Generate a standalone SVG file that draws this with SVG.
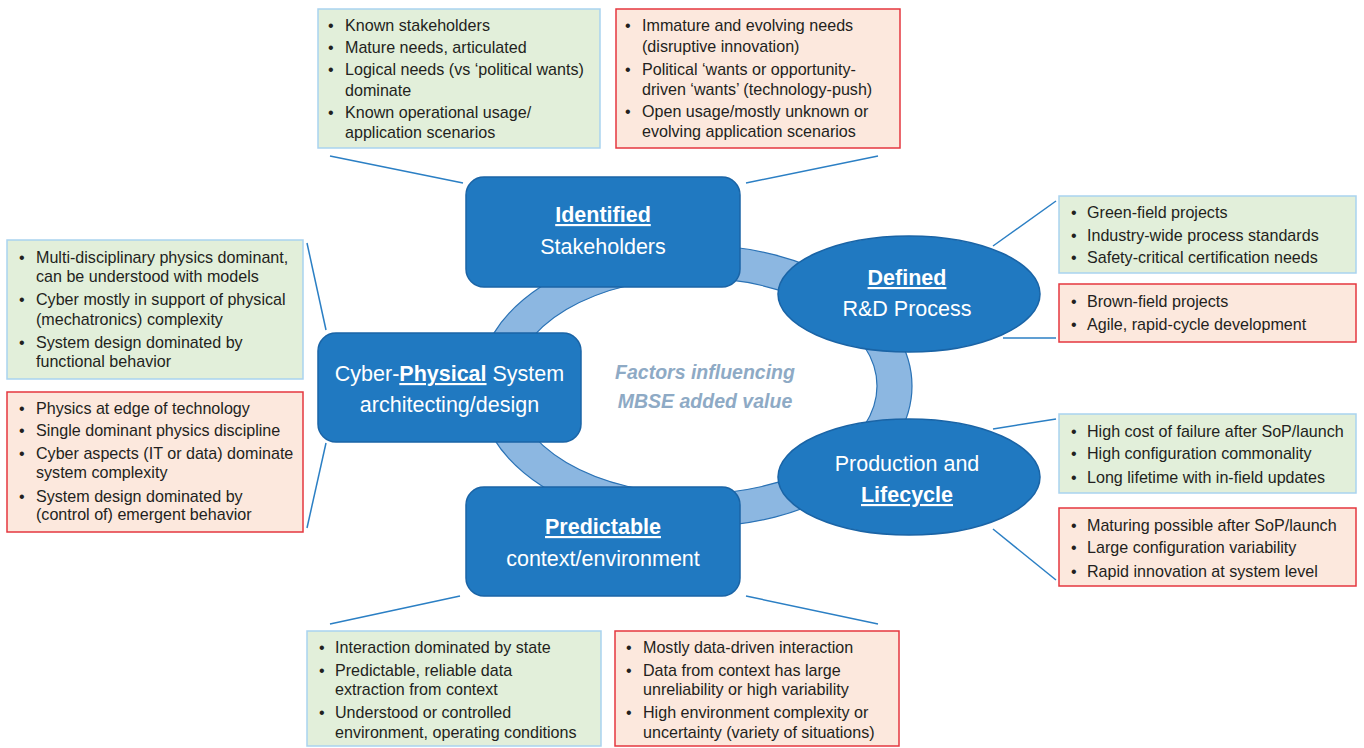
<svg xmlns="http://www.w3.org/2000/svg" width="1364" height="748" viewBox="0 0 1364 748">
<style>
  .good{fill:#e2efda;stroke:#a9d3ef;stroke-width:1.5}
  .bad{fill:#fce8dd;stroke:#e5373f;stroke-width:1.5}
  .t{font-family:"Liberation Sans",Arial,sans-serif;font-size:16.1px;fill:#231f20}
  .node{fill:#2079c1;stroke:#1a64a6;stroke-width:1.5}
  .nt{font-family:"Liberation Sans",Arial,sans-serif;font-size:21.5px;fill:#ffffff;text-anchor:middle}
  .b{font-weight:bold;text-decoration:underline}
  .conn line{stroke:#2b7fc4;stroke-width:1.5}
  .ctr{font-family:"Liberation Sans",Arial,sans-serif;font-size:19.5px;font-weight:bold;font-style:italic;fill:#8eaac5;text-anchor:middle}
</style>
<rect width="1364" height="748" fill="#ffffff"/>

<g id="ring">
  <path d="M478,386 a217,141 0 1,0 434,0 a217,141 0 1,0 -434,0 Z M513,386 a182,108 0 1,0 364,0 a182,108 0 1,0 -364,0 Z" fill="#8cb7e1" fill-rule="evenodd" stroke="#2a72b5" stroke-width="1.2"/>
</g>

<g id="connectors" class="conn">
  <line x1="330" y1="156" x2="463" y2="183"/>
  <line x1="746" y1="183" x2="878" y2="156"/>
  <line x1="307" y1="243" x2="326" y2="330"/>
  <line x1="326" y1="443" x2="307" y2="528"/>
  <line x1="993" y1="246" x2="1056" y2="201"/>
  <line x1="1003" y1="338" x2="1056" y2="338"/>
  <line x1="993" y1="429" x2="1056" y2="419"/>
  <line x1="993" y1="529" x2="1056" y2="580"/>
  <line x1="330" y1="624" x2="460" y2="596"/>
  <line x1="746" y1="596" x2="878" y2="624"/>
</g>

<g id="node-identified">
  <rect class="node" x="466" y="177" width="274" height="110" rx="18"/>
  <text class="nt" x="603" y="222"><tspan class="b">Identified</tspan></text>
  <text class="nt" x="603" y="254">Stakeholders</text>
</g>
<g id="node-cyber">
  <rect class="node" x="318" y="333" width="263" height="109" rx="18"/>
  <text class="nt" x="449.5" y="381">Cyber-<tspan class="b">Physical</tspan> System</text>
  <text class="nt" x="449.5" y="412">architecting/design</text>
</g>
<g id="node-predictable">
  <rect class="node" x="466" y="487" width="274" height="109" rx="18"/>
  <text class="nt" x="603" y="534"><tspan class="b">Predictable</tspan></text>
  <text class="nt" x="603" y="566">context/environment</text>
</g>
<g id="node-defined">
  <ellipse class="node" cx="909" cy="294" rx="131" ry="58"/>
  <text class="nt" x="907" y="285"><tspan class="b">Defined</tspan></text>
  <text class="nt" x="907" y="316">R&amp;D Process</text>
</g>
<g id="node-production">
  <ellipse class="node" cx="909" cy="477" rx="131" ry="58"/>
  <text class="nt" x="907" y="471">Production and</text>
  <text class="nt" x="907" y="502"><tspan class="b">Lifecycle</tspan></text>
</g>

<g id="center-label">
  <text class="ctr" x="705" y="379">Factors influencing</text>
  <text class="ctr" x="705" y="408">MBSE added value</text>
</g>

<g id="box-top-good">
  <rect class="good" x="318" y="9" width="282" height="139"/>
  <text class="t"><tspan x="328" y="31">•</tspan><tspan x="345" y="31">Known stakeholders</tspan><tspan x="328" y="53">•</tspan><tspan x="345" y="53">Mature needs, articulated</tspan><tspan x="328" y="75">•</tspan><tspan x="345" y="75">Logical needs (vs ‘political wants)</tspan><tspan x="345" y="96">dominate</tspan><tspan x="328" y="118">•</tspan><tspan x="345" y="118">Known operational usage/</tspan><tspan x="345" y="138">application scenarios</tspan></text>
</g>
<g id="box-top-bad">
  <rect class="bad" x="616" y="9" width="284" height="139"/>
  <text class="t"><tspan x="625" y="31">•</tspan><tspan x="642" y="31">Immature and evolving needs</tspan><tspan x="642" y="52">(disruptive innovation)</tspan><tspan x="625" y="75">•</tspan><tspan x="642" y="75">Political ‘wants or opportunity-</tspan><tspan x="642" y="95">driven ‘wants’ (technology-push)</tspan><tspan x="625" y="117">•</tspan><tspan x="642" y="117">Open usage/mostly unknown or</tspan><tspan x="642" y="137">evolving application scenarios</tspan></text>
</g>
<g id="box-left-good">
  <rect class="good" x="7" y="240" width="296" height="139"/>
  <text class="t"><tspan x="19" y="263">•</tspan><tspan x="36" y="263">Multi-disciplinary physics dominant,</tspan><tspan x="36" y="282">can be understood with models</tspan><tspan x="19" y="305">•</tspan><tspan x="36" y="305">Cyber mostly in support of physical</tspan><tspan x="36" y="325">(mechatronics) complexity</tspan><tspan x="19" y="348">•</tspan><tspan x="36" y="348">System design dominated by</tspan><tspan x="36" y="367">functional behavior</tspan></text>
</g>
<g id="box-left-bad">
  <rect class="bad" x="7" y="392" width="296" height="140"/>
  <text class="t"><tspan x="19" y="414">•</tspan><tspan x="36" y="414">Physics at edge of technology</tspan><tspan x="19" y="436">•</tspan><tspan x="36" y="436">Single dominant physics discipline</tspan><tspan x="19" y="459">•</tspan><tspan x="36" y="459">Cyber aspects (IT or data) dominate</tspan><tspan x="36" y="478">system complexity</tspan><tspan x="19" y="502">•</tspan><tspan x="36" y="502">System design dominated by</tspan><tspan x="36" y="520">(control of) emergent behavior</tspan></text>
</g>
<g id="box-right1-good">
  <rect class="good" x="1059" y="196" width="297" height="77"/>
  <text class="t"><tspan x="1071" y="218">•</tspan><tspan x="1087" y="218">Green-field projects</tspan><tspan x="1071" y="241">•</tspan><tspan x="1087" y="241">Industry-wide process standards</tspan><tspan x="1071" y="263">•</tspan><tspan x="1087" y="263">Safety-critical certification needs</tspan></text>
</g>
<g id="box-right1-bad">
  <rect class="bad" x="1059" y="284" width="297" height="58"/>
  <text class="t"><tspan x="1071" y="307">•</tspan><tspan x="1087" y="307">Brown-field projects</tspan><tspan x="1071" y="330">•</tspan><tspan x="1087" y="330">Agile, rapid-cycle development</tspan></text>
</g>
<g id="box-right2-good">
  <rect class="good" x="1059" y="414" width="297" height="79"/>
  <text class="t"><tspan x="1071" y="437">•</tspan><tspan x="1087" y="437">High cost of failure after SoP/launch</tspan><tspan x="1071" y="459">•</tspan><tspan x="1087" y="459">High configuration commonality</tspan><tspan x="1071" y="483">•</tspan><tspan x="1087" y="483">Long lifetime with in-field updates</tspan></text>
</g>
<g id="box-right2-bad">
  <rect class="bad" x="1059" y="508" width="297" height="78"/>
  <text class="t"><tspan x="1071" y="531">•</tspan><tspan x="1087" y="531">Maturing possible after SoP/launch</tspan><tspan x="1071" y="553">•</tspan><tspan x="1087" y="553">Large configuration variability</tspan><tspan x="1071" y="577">•</tspan><tspan x="1087" y="577">Rapid innovation at system level</tspan></text>
</g>
<g id="box-bottom-good">
  <rect class="good" x="307" y="631" width="294" height="115"/>
  <text class="t"><tspan x="319" y="653">•</tspan><tspan x="335" y="653">Interaction dominated by state</tspan><tspan x="319" y="676">•</tspan><tspan x="335" y="676">Predictable, reliable data</tspan><tspan x="335" y="695">extraction from context</tspan><tspan x="319" y="718">•</tspan><tspan x="335" y="718">Understood or controlled</tspan><tspan x="335" y="738">environment, operating conditions</tspan></text>
</g>
<g id="box-bottom-bad">
  <rect class="bad" x="615" y="631" width="284" height="115"/>
  <text class="t"><tspan x="626" y="653">•</tspan><tspan x="643" y="653">Mostly data-driven interaction</tspan><tspan x="626" y="676">•</tspan><tspan x="643" y="676">Data from context has large</tspan><tspan x="643" y="695">unreliability or high variability</tspan><tspan x="626" y="718">•</tspan><tspan x="643" y="718">High environment complexity or</tspan><tspan x="643" y="738">uncertainty (variety of situations)</tspan></text>
</g>
</svg>
